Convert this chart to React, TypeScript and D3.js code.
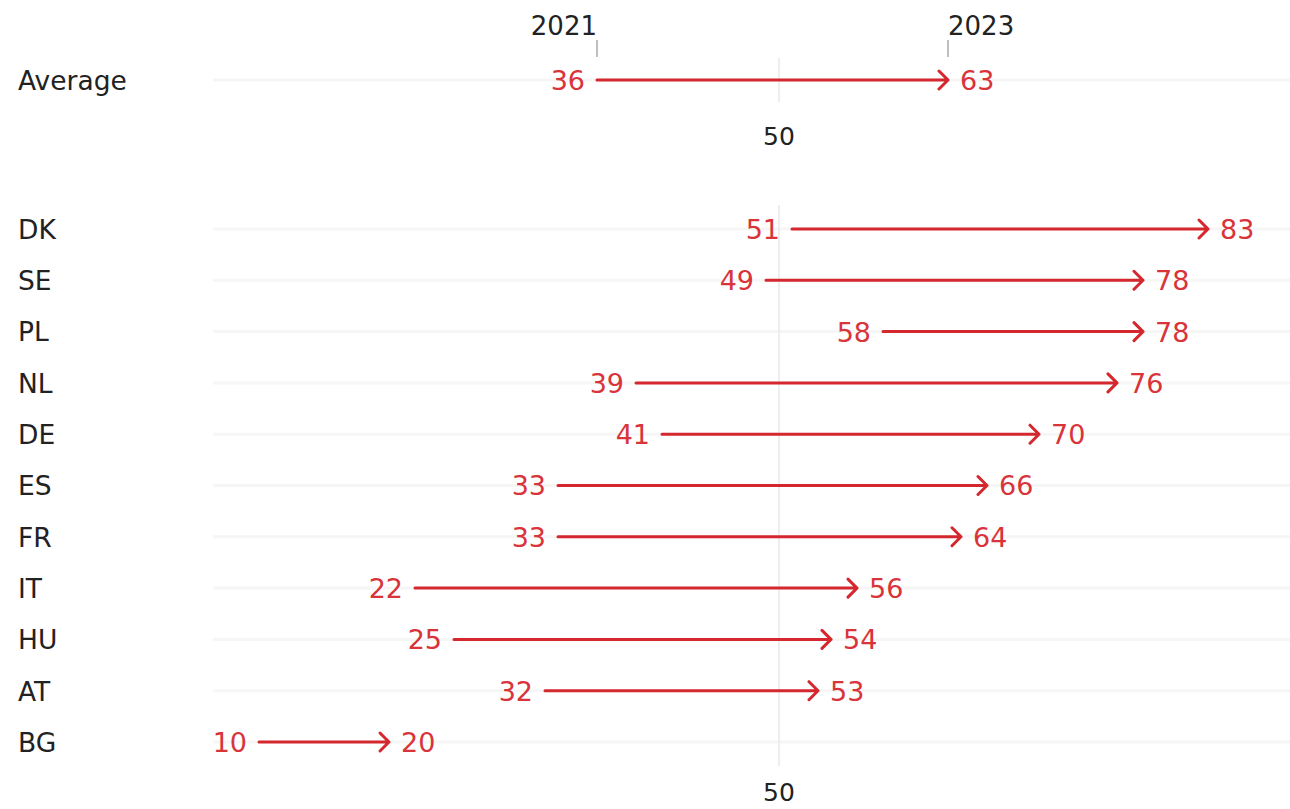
import React from "react";
import * as d3 from "d3";

const countries = ["DK", "SE", "PL", "NL", "DE", "ES", "FR", "IT", "HU", "AT", "BG"];
const values2021 = [51, 49, 58, 39, 41, 33, 33, 22, 25, 32, 10];
const values2023 = [83, 78, 78, 76, 70, 66, 64, 56, 54, 53, 20];
const averageLabel = "Average";
const average2021 = 36;
const average2023 = 63;
const yearLabels = ["2021", "2023"];
const refValue = 50;

const W = 1290;
const H = 809;
const RED = "#d4282e";
const RED_TEXT = "#d8343a";
const FONT = "'DejaVu Sans', sans-serif";

export default function App() {
  const x = d3.scaleLinear().domain([0, 100]).range([129, 1429]);
  const y = d3.scalePoint<string>().domain(countries).range([229, 742]);
  const avgY = 80;
  const gridX0 = 213;
  const gridX1 = W;

  const arrow = (x1: number, x2: number, yy: number, key: string) => {
    const p = d3.path();
    p.moveTo(x1, yy);
    p.lineTo(x2, yy);
    p.moveTo(x2 - 9, yy - 9);
    p.lineTo(x2, yy);
    p.lineTo(x2 - 9, yy + 9);
    return (
      <path
        key={key}
        d={p.toString()}
        fill="none"
        stroke={RED}
        strokeWidth={3}
        strokeLinecap="round"
        strokeLinejoin="round"
      />
    );
  };

  const row = (label: string, yy: number) => (
    <line key={label + "-g"} x1={gridX0} x2={gridX1} y1={yy} y2={yy} stroke="#f6f6f6" strokeWidth={3} />
  );

  const rowMarks = (label: string, a: number, b: number, yy: number) => (
    <g key={label + "-m"}>
      <text x={18} y={yy} dy="0.37em" fontSize={26.5} fill="#222" fontFamily={FONT}>
        {label}
      </text>
      {arrow(x(a), x(b), yy, label + "-a")}
      <text
        x={x(a) - 12}
        y={yy}
        dy="0.37em"
        textAnchor="end"
        fontSize={27}
        fill={RED_TEXT}
        fontFamily={FONT}
      >
        {a}
      </text>
      <text
        x={x(b) + 12}
        y={yy}
        dy="0.37em"
        textAnchor="start"
        fontSize={27}
        fill={RED_TEXT}
        fontFamily={FONT}
      >
        {b}
      </text>
    </g>
  );

  return (
    <svg
      width={W}
      height={H}
      style={{ position: "absolute", left: 0, top: 0, background: "#fff" }}
    >
      {row(averageLabel, avgY)}
      {countries.map((c) => row(c, y(c)!))}

      {/* reference line at 50 */}
      <line x1={x(refValue)} x2={x(refValue)} y1={58} y2={102} stroke="#e8e8e8" strokeWidth={1.5} />
      <line x1={x(refValue)} x2={x(refValue)} y1={205} y2={766} stroke="#e8e8e8" strokeWidth={1.5} />
      <text x={x(refValue)} y={145} textAnchor="middle" fontSize={25} fill="#222" fontFamily={FONT}>
        {refValue}
      </text>
      <text x={x(refValue)} y={801} textAnchor="middle" fontSize={25} fill="#222" fontFamily={FONT}>
        {refValue}
      </text>

      {/* year annotations */}
      <line x1={x(average2021)} x2={x(average2021)} y1={40} y2={57} stroke="#aaa" strokeWidth={1.5} />
      <line x1={x(average2023)} x2={x(average2023)} y1={40} y2={57} stroke="#aaa" strokeWidth={1.5} />
      <text x={x(average2021)} y={35} textAnchor="end" fontSize={26} fill="#222" fontFamily={FONT}>
        {yearLabels[0]}
      </text>
      <text x={x(average2023)} y={35} textAnchor="start" fontSize={26} fill="#222" fontFamily={FONT}>
        {yearLabels[1]}
      </text>

      {rowMarks(averageLabel, average2021, average2023, avgY)}
      {countries.map((c, i) => rowMarks(c, values2021[i], values2023[i], y(c)!))}
    </svg>
  );
}
